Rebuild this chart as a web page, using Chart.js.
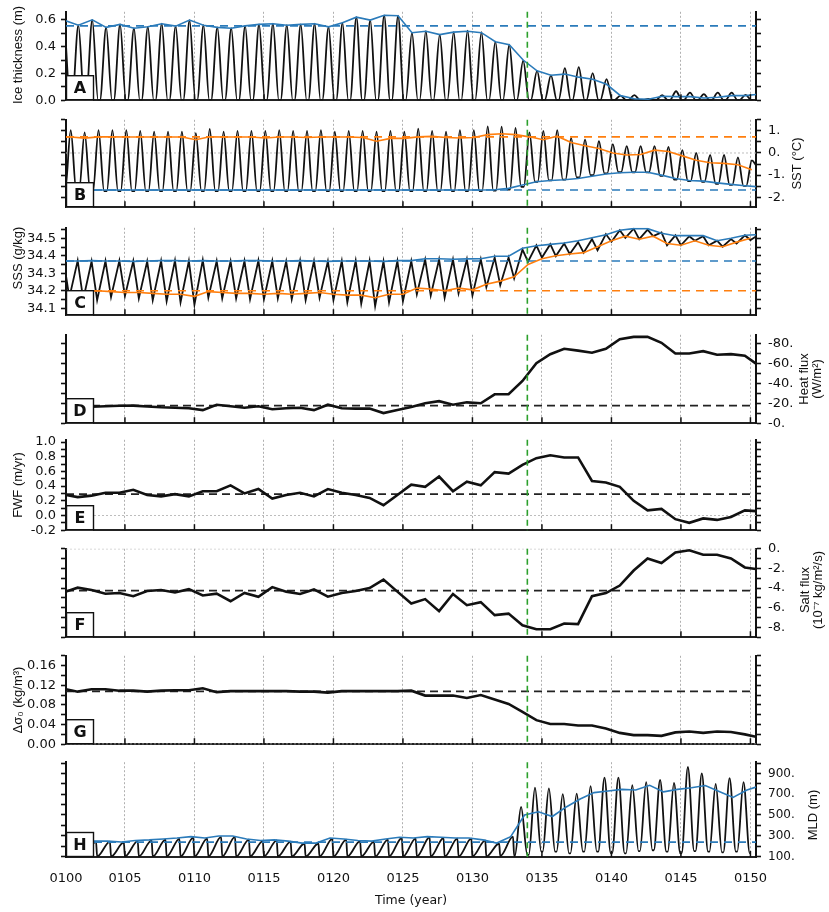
<!DOCTYPE html>
<html>
<head>
<meta charset="utf-8">
<title>Ice thickness, SST, SSS, surface fluxes, stratification and MLD, years 0100–0150</title>
<script src="https://cdn.jsdelivr.net/npm/chart.js"></script>
<style>
  html, body { margin: 0; padding: 0; background: #ffffff; }
  #figure { position: relative; width: 829px; height: 912px; overflow: hidden; background: #ffffff; }
  #figure canvas { position: absolute; left: 0; }
</style>
</head>
<body>
<div id="figure"></div>
<script>
// ================= x axis (model years) =================
const X_MIN = 100.76;
const X_MAX = 150.4;
const X_TICKS = [105, 110, 115, 120, 125, 130, 135, 140, 145, 150];
const X_START_LABEL = '0100';
const EVENT_YEAR = 133.95;

const YEARS = [100,101,102,103,104,105,106,107,108,109,
               110,111,112,113,114,115,116,117,118,119,
               120,121,122,123,124,125,126,127,128,129,
               130,131,132,133,134,135,136,137,138,139,
               140,141,142,143,144,145,146,147,148,149,150];

// ================= A: ice thickness (m) =================
// yearly maximum of the monthly curve, years 0100..0149
const A_PEAK = [0.597,0.560,0.600,0.544,0.566,0.537,0.548,0.571,0.553,0.598,
                0.560,0.544,0.537,0.555,0.566,0.571,0.560,0.566,0.571,0.548,
                0.578,0.620,0.598,0.634,0.631,0.504,0.515,0.490,0.508,0.520,
                0.508,0.437,0.414,0.295,0.219,0.186,0.240,0.247,0.202,0.157,
                0.034,0.038,0.010,0.038,0.067,0.056,0.045,0.056,0.056,0.040];
const A_ICE_FREE = 0.0;
// blue annual-maximum line, years 0100..0149
const A_MAX = [0.597,0.560,0.600,0.544,0.566,0.537,0.548,0.571,0.553,0.598,
               0.560,0.544,0.537,0.555,0.566,0.571,0.560,0.566,0.571,0.548,
               0.578,0.620,0.598,0.634,0.631,0.504,0.515,0.490,0.508,0.515,
               0.504,0.437,0.414,0.300,0.219,0.186,0.195,0.172,0.157,0.119,
               0.034,0.011,0.007,0.029,0.027,0.027,0.016,0.022,0.034,0.034];
const A_MAX_END = 0.043;
const A_MAX_MEAN = 0.555;

// ================= B: SST (°C) =================
// summer peaks, years 0101..0150
const B_PEAK = [1.03,0.93,1.03,1.03,1.03,1.00,0.97,0.97,0.97,0.90,
                1.09,0.97,1.00,1.00,1.00,1.03,1.00,1.00,1.03,0.96,
                1.00,1.00,0.96,1.00,0.96,1.10,1.00,0.97,1.03,1.03,
                1.20,1.19,1.13,0.93,1.00,1.03,0.67,0.60,0.53,0.40,
                0.31,0.31,0.31,0.27,0.13,0.00,-0.09,-0.09,-0.20,-0.33];
// winter troughs, years 0100..0149
const B_TROUGH = [-1.72,-1.72,-1.72,-1.72,-1.72,-1.72,-1.72,-1.72,-1.72,-1.72,
                  -1.72,-1.72,-1.72,-1.72,-1.72,-1.72,-1.72,-1.72,-1.72,-1.72,
                  -1.72,-1.72,-1.72,-1.72,-1.72,-1.72,-1.72,-1.72,-1.72,-1.72,
                  -1.72,-1.70,-1.66,-1.53,-1.30,-1.24,-1.20,-1.10,-1.00,-0.92,
                  -0.87,-0.87,-0.88,-1.03,-1.20,-1.27,-1.30,-1.40,-1.44,-1.49];
const B_END = -0.55;
// orange line, years 0101..0150
const B_MAX = [0.72,0.67,0.73,0.73,0.72,0.72,0.72,0.72,0.72,0.60,
               0.73,0.72,0.72,0.72,0.68,0.72,0.72,0.70,0.72,0.72,
               0.72,0.70,0.53,0.66,0.66,0.73,0.75,0.70,0.68,0.70,
               0.83,0.87,0.83,0.73,0.60,0.76,0.47,0.33,0.20,0.00,
               -0.09,-0.07,0.13,0.07,-0.13,-0.33,-0.44,-0.47,-0.53,-0.76];
const B_MAX_START = 0.73;
const B_MAX_MEAN = 0.73;
// blue line, years 0100..0149
const B_MIN = [-1.67,-1.67,-1.67,-1.67,-1.67,-1.67,-1.67,-1.67,-1.67,-1.67,
               -1.67,-1.67,-1.67,-1.67,-1.67,-1.67,-1.67,-1.67,-1.67,-1.67,
               -1.67,-1.67,-1.67,-1.67,-1.67,-1.67,-1.67,-1.67,-1.67,-1.67,
               -1.67,-1.66,-1.60,-1.45,-1.30,-1.24,-1.21,-1.15,-1.05,-0.95,
               -0.89,-0.87,-0.87,-1.00,-1.15,-1.24,-1.27,-1.35,-1.42,-1.48];
const B_MIN_END = -1.52;
const B_MIN_MEAN = -1.67;
const B_ZERO = 0;

// ================= C: SSS (g/kg) =================
// winter peaks, years 0100..0149
const C_PEAK = [34.370,34.372,34.368,34.370,34.372,34.370,34.368,34.370,34.372,34.370,
                34.375,34.370,34.368,34.370,34.372,34.370,34.368,34.372,34.370,34.368,
                34.370,34.372,34.370,34.368,34.370,34.370,34.378,34.378,34.378,34.380,
                34.380,34.390,34.390,34.435,34.460,34.466,34.470,34.478,34.495,34.524,
                34.546,34.555,34.550,34.534,34.517,34.512,34.512,34.486,34.495,34.517];
// summer troughs, years 0101..0150
const C_TROUGH = [34.160,34.150,34.146,34.164,34.169,34.157,34.146,34.140,34.134,34.120,
                  34.160,34.157,34.157,34.152,34.152,34.157,34.152,34.146,34.160,34.146,
                  34.134,34.126,34.112,34.134,34.140,34.180,34.173,34.160,34.186,34.173,
                  34.220,34.232,34.270,34.366,34.390,34.398,34.410,34.418,34.432,34.480,
                  34.503,34.495,34.512,34.460,34.460,34.486,34.460,34.452,34.470,34.490];
const C_END = 34.51;
// blue line, years 0100..0149
const C_MAX = [34.370,34.370,34.372,34.370,34.370,34.368,34.370,34.372,34.372,34.370,
               34.372,34.370,34.370,34.372,34.372,34.370,34.370,34.372,34.370,34.368,
               34.370,34.370,34.370,34.368,34.372,34.372,34.383,34.383,34.380,34.382,
               34.383,34.397,34.397,34.443,34.457,34.465,34.473,34.486,34.503,34.520,
               34.546,34.555,34.555,34.529,34.515,34.515,34.515,34.486,34.500,34.517];
const C_MAX_END = 34.52;
const C_MAX_MEAN = 34.37;
// orange line, years 0101..0150
const C_MIN = [34.190,34.195,34.200,34.195,34.190,34.190,34.185,34.180,34.180,34.168,
               34.195,34.190,34.185,34.185,34.180,34.185,34.180,34.185,34.190,34.180,
               34.175,34.175,34.160,34.180,34.180,34.215,34.210,34.200,34.215,34.205,
               34.237,34.255,34.280,34.350,34.383,34.400,34.410,34.418,34.452,34.486,
               34.512,34.495,34.512,34.470,34.460,34.486,34.460,34.452,34.478,34.500];
const C_MIN_START = 34.19;
const C_MIN_MEAN = 34.20;

// ================= D: heat flux (W/m²), annual, years 0101..0149 =================
const D_FLUX = [-15.0,-16.5,-17.1,-17.5,-17.7,-16.8,-16.0,-15.6,-15.0,-13.2,
                -18.6,-17.1,-15.6,-17.1,-14.1,-15.0,-15.6,-13.2,-18.6,-15.0,
                -14.7,-14.7,-10.2,-13.2,-16.2,-20.1,-22.2,-18.6,-21.0,-20.1,
                -29.1,-29.1,-42.5,-60.5,-69.5,-74.9,-73.1,-71.0,-74.9,-84.5,
                -86.9,-86.9,-80.9,-70.1,-70.1,-72.5,-68.9,-69.5,-68.0];
const D_START = -14.0, D_END = -59.9, D_MEAN = -17.7;

// ================= E: FWF (m/yr), annual, years 0101..0149 =================
const E_FWF = [0.25,0.27,0.31,0.31,0.35,0.28,0.26,0.29,0.26,0.33,
               0.33,0.41,0.30,0.36,0.23,0.28,0.31,0.26,0.36,0.31,
               0.28,0.24,0.14,0.28,0.42,0.39,0.53,0.33,0.46,0.41,
               0.59,0.57,0.69,0.78,0.82,0.79,0.79,0.47,0.45,0.39,
               0.20,0.07,0.09,-0.05,-0.10,-0.04,-0.06,-0.02,0.07];
const E_START = 0.28, E_END = 0.06, E_MEAN = 0.29, E_ZERO = 0;

// ================= F: salt flux (1e-7 kg/m²/s), annual, years 0101..0149 =================
const F_SALT = [-3.96,-4.20,-4.57,-4.50,-4.82,-4.30,-4.20,-4.45,-4.11,-4.75,
                -4.57,-5.34,-4.50,-4.88,-3.90,-4.36,-4.60,-4.14,-4.88,-4.50,
                -4.30,-3.99,-3.13,-4.36,-5.58,-5.12,-6.35,-4.60,-5.74,-5.43,
                -6.75,-6.60,-7.79,-8.19,-8.19,-7.60,-7.67,-4.82,-4.51,-3.74,
                -2.21,-0.98,-1.44,-0.37,-0.15,-0.61,-0.61,-0.98,-1.90];
const F_START = -4.36, F_END = -2.06, F_MEAN = -4.26, F_ZERO = 0;

// ================= G: Δσ0 (kg/m³), annual, years 0101..0149 =================
const G_DSIGMA = [0.107,0.112,0.112,0.109,0.109,0.107,0.109,0.110,0.110,0.114,
                  0.106,0.108,0.108,0.108,0.108,0.108,0.107,0.107,0.105,0.108,
                  0.108,0.108,0.108,0.108,0.109,0.099,0.099,0.099,0.094,0.100,
                  0.091,0.082,0.066,0.049,0.041,0.041,0.038,0.038,0.032,0.023,
                  0.0185,0.0185,0.017,0.024,0.026,0.023,0.026,0.025,0.020];
const G_START = 0.112, G_END = 0.015, G_MEAN = 0.1075, G_ZERO = 0;

// ================= H: MLD (m) =================
// yearly maxima, years 0100..0149
const H_PEAK = [240,240,243,243,235,248,255,262,270,282,
                272,288,288,262,248,255,243,225,225,270,
                262,248,243,262,278,272,285,278,272,272,
                255,225,291,577,762,755,700,706,777,860,
                860,786,817,838,808,962,900,798,854,817];
// yearly minima, years 0101..0150
const H_TROUGH = [100,100,100,100,100,100,100,100,100,100,
                  100,100,100,100,100,100,100,100,100,100,
                  100,100,100,100,100,100,100,100,100,100,
                  100,104,106,115,146,146,130,146,146,130,
                  130,152,160,146,130,152,146,140,146,130];
const H_LATE_FROM = 133;
// blue line, years 0100..0149
const H_MAX = [245,245,248,248,240,254,260,269,278,291,
               278,297,297,269,254,260,248,229,229,278,
               269,254,248,269,285,278,291,285,278,278,
               260,229,291,500,531,485,577,654,715,731,
               746,740,786,722,746,762,783,725,669,740];
const H_MAX_END = 768;
const H_MAX_MEAN = 238;

// ================= phases within a year (fraction of a year) =================
const PH = {
  A_PEAK: 0.65, A_FREE_START: 1.07, A_FREE_END: 1.2,
  B_PEAK: 0.1, B_LOW_START: 0.5, B_LOW_END: 0.7,
  C_PEAK: 0.6, C_TROUGH: 1.0,
  H_EARLY_PEAK: 0.92, H_LATE_RISE: 0.05, H_LATE_PEAK: 0.5, H_LATE_FALL: 0.95,
  ANNUAL: 0.6, BLUE_A: 0.65, BLUE_B: 0.6, ORANGE_B: 0.1, BLUE_C: 0.6, ORANGE_C: 0.0, BLUE_H: 0.75
};

// ================= styles =================
const BLACK = '#111111', BLUE = '#2b7bba', ORANGE = '#ff7f0e', GREEN = '#2ca02c', GRIDC = '#b0b0b0', ZEROC = '#bdbdbd';
const TICK_FONT = { family: "'DejaVu Sans', 'Liberation Sans', sans-serif", size: 13 };
const TICK_FONT_H = { family: "'DejaVu Sans', 'Liberation Sans', sans-serif", size: 12 };
const TITLE_FONT = "13px 'Liberation Sans', Arial, sans-serif";
const SEASONAL_W = 1.8;

// ================= builders =================
function annual(values, yearOffset, phase, startValue, endValue) {
  const pts = [];
  if (startValue != null) pts.push({ x: X_MIN, y: startValue });
  values.forEach((v, i) => pts.push({ x: YEARS[i + yearOffset] + phase, y: v }));
  if (endValue != null) pts.push({ x: X_MAX, y: endValue });
  return pts;
}
function buildA() {
  const pts = [];
  A_PEAK.forEach((v, i) => {
    const y = YEARS[i];
    pts.push({ x: y + PH.A_PEAK, y: v });
    pts.push({ x: y + PH.A_FREE_START, y: A_ICE_FREE });
    pts.push({ x: y + PH.A_FREE_END, y: A_ICE_FREE });
  });
  return pts;
}
function buildB() {
  const pts = [];
  B_TROUGH.forEach((v, i) => {
    const y = YEARS[i];
    pts.push({ x: y + PH.B_LOW_START, y: v });
    pts.push({ x: y + PH.B_LOW_END, y: v });
    pts.push({ x: YEARS[i + 1] + PH.B_PEAK, y: B_PEAK[i] });
  });
  pts.push({ x: X_MAX, y: B_END });
  return pts;
}
function buildC() {
  const pts = [];
  C_PEAK.forEach((v, i) => {
    const y = YEARS[i];
    pts.push({ x: y + PH.C_PEAK, y: v });
    pts.push({ x: y + PH.C_TROUGH, y: C_TROUGH[i] });
  });
  pts.push({ x: X_MAX, y: C_END });
  return pts;
}
function buildH() {
  const pts = [];
  H_PEAK.forEach((v, i) => {
    const y = YEARS[i];
    if (y < H_LATE_FROM) {
      pts.push({ x: y + PH.H_EARLY_PEAK, y: v });
      pts.push({ x: y + 1, y: H_TROUGH[i] });
    } else {
      pts.push({ x: y + PH.H_LATE_RISE, y: H_TROUGH[i - 1] });
      pts.push({ x: y + PH.H_LATE_PEAK, y: v });
      pts.push({ x: y + PH.H_LATE_FALL, y: H_TROUGH[i] });
      pts.push({ x: y + 1, y: H_TROUGH[i] });
    }
  });
  return pts;
}
function line(data, color, width, extra) {
  return Object.assign({ data, borderColor: color, backgroundColor: color, borderWidth: width,
    pointRadius: 0, fill: false, tension: 0, xAxisID: 'x', yAxisID: 'yL' }, extra || {});
}
function flat(value, color, dash, width, order) {
  return line([{ x: X_MIN, y: value }, { x: X_MAX, y: value }], color, width, { borderDash: dash, order });
}
const SMOOTH = { cubicInterpolationMode: 'monotone' };

// ================= tick label formats =================
const near = (a, b) => Math.abs(a - b) < 1e-6;
const fmtA = v => (Math.round(v * 10) % 2 === 0 ? v.toFixed(1) : '');
const fmtB = v => (near(v, Math.round(v)) ? Math.round(v) + '.' : '');
const fmtC = v => (near(v * 10, Math.round(v * 10)) ? v.toFixed(1) : '');
const fmtD = v => (Math.round(v) % 20 === 0 ? (Math.round(v) === 0 ? '-0.' : Math.round(v) + '.') : '');
const fmtE = v => (Math.round(v * 10) % 2 === 0 ? v.toFixed(1) : '');
const fmtF = v => (Math.round(v) % 2 === 0 ? (Math.round(v) === 0 ? '0.' : Math.round(v) + '.') : '');
const fmtG = v => (Math.round(v * 100) % 4 === 0 ? v.toFixed(2) : '');
const fmtH = v => (Math.round((v - 100) / 100) % 2 === 0 ? Math.round(v) + '.' : '');

// ================= panels =================
const PANELS = [
  { letter: 'A', top: 7, bottom: 105, min: 0, max: 0.66, step: 0.1, left: fmtA,
    leftTitle: ['Ice thickness (m)'], titleY: 55,
    datasets: () => [
      line(buildA(), BLACK, SEASONAL_W, Object.assign({ order: 3 }, SMOOTH)),
      flat(A_MAX_MEAN, BLUE, [8, 6], 1.6, 2),
      line(annual(A_MAX, 0, PH.BLUE_A, null, A_MAX_END), BLUE, 1.6, { order: 1 })
    ] },
  { letter: 'B', top: 115, bottom: 212, min: -2.45, max: 1.5, step: 0.5, right: fmtB,
    rightTitle: ['SST (°C)'], titleX: 797,
    datasets: () => [
      flat(B_ZERO, ZEROC, [2, 2], 1, 5),
      line(buildB(), BLACK, SEASONAL_W, Object.assign({ order: 3 }, SMOOTH)),
      flat(B_MAX_MEAN, ORANGE, [8, 6], 1.6, 2),
      flat(B_MIN_MEAN, BLUE, [8, 6], 1.6, 2),
      line(annual(B_MAX, 1, PH.ORANGE_B, B_MAX_START, null), ORANGE, 1.6, { order: 1 }),
      line(annual(B_MIN, 0, PH.BLUE_B, null, B_MIN_END), BLUE, 1.6, { order: 1 })
    ] },
  { letter: 'C', top: 223, bottom: 320, min: 34.06, max: 34.56, step: 0.05, left: fmtC,
    leftTitle: ['SSS (g/kg)'], titleY: 258,
    datasets: () => [
      line(buildC(), BLACK, SEASONAL_W, { order: 3 }),
      flat(C_MAX_MEAN, BLUE, [8, 6], 1.6, 2),
      flat(C_MIN_MEAN, ORANGE, [8, 6], 1.6, 2),
      line(annual(C_MAX, 0, PH.BLUE_C, null, C_MAX_END), BLUE, 1.6, { order: 1 }),
      line(annual(C_MIN, 1, PH.ORANGE_C, C_MIN_START, null), ORANGE, 1.6, { order: 1 })
    ] },
  { letter: 'D', top: 330, bottom: 428, min: -89, max: 0, reverse: true, step: 10, right: fmtD,
    rightTitle: ['Heat flux', '(W/m²)'], titleX: 811,
    datasets: () => [
      flat(D_MEAN, '#222222', [8, 5], 1.8, 2),
      line(annual(D_FLUX, 1, PH.ANNUAL, D_START, D_END), BLACK, 2.6, { order: 1 })
    ] },
  { letter: 'E', top: 435, bottom: 535, min: -0.2, max: 1.03, step: 0.1, left: fmtE,
    leftTitle: ['FWF (m/yr)'],
    datasets: () => [
      flat(E_ZERO, ZEROC, [2, 2], 1, 5),
      flat(E_MEAN, '#222222', [8, 5], 1.8, 2),
      line(annual(E_FWF, 1, PH.ANNUAL, E_START, E_END), BLACK, 2.6, { order: 1 })
    ] },
  { letter: 'F', top: 544, bottom: 642, min: -9, max: 0, step: 1, right: fmtF,
    rightTitle: ['Salt flux', '(10⁻⁷ kg/m²/s)'], titleY: 590, titleX: 812,
    datasets: () => [
      flat(F_ZERO, ZEROC, [2, 2], 1.2, 5),
      flat(F_MEAN, '#222222', [8, 5], 1.8, 2),
      line(annual(F_SALT, 1, PH.ANNUAL, F_START, F_END), BLACK, 2.6, { order: 1 })
    ] },
  { letter: 'G', top: 651, bottom: 749, min: 0, max: 0.18, step: 0.02, left: fmtG,
    leftTitle: ['Δσ₀ (kg/m³)'],
    datasets: () => [
      flat(G_ZERO, ZEROC, [2, 2], 1.2, 5),
      flat(G_MEAN, '#222222', [8, 5], 1.8, 2),
      line(annual(G_DSIGMA, 1, PH.ANNUAL, G_START, G_END), BLACK, 2.6, { order: 1 })
    ] },
  { letter: 'H', top: 758, bottom: 857, min: 95, max: 1008, step: 100, right: fmtH, rightFont: TICK_FONT_H,
    rightTitle: ['MLD (m)'], titleY: 815, titleX: 813, xLabels: true,
    datasets: () => [
      line(buildH(), BLACK, SEASONAL_W, Object.assign({ order: 3 }, SMOOTH)),
      flat(H_MAX_MEAN, BLUE, [8, 6], 1.6, 2),
      line(annual(H_MAX, 0, PH.BLUE_H, null, H_MAX_END), BLUE, 1.6, { order: 1 })
    ] }
];

// ================= frame / annotation plugin =================
function drawRotated(ctx, lines, cx, cy, gap) {
  ctx.save();
  ctx.translate(cx, cy);
  ctx.rotate(-Math.PI / 2);
  ctx.font = TITLE_FONT;
  ctx.fillStyle = BLACK;
  ctx.textAlign = 'center';
  ctx.textBaseline = 'middle';
  const n = lines.length;
  lines.forEach((t, k) => ctx.fillText(t, 0, (k - (n - 1) / 2) * gap));
  ctx.restore();
}
const framePlugin = {
  id: 'frame',
  afterDatasetsDraw(chart) {
    const { ctx, chartArea: a, scales } = chart;
    const gx = scales.x.getPixelForValue(EVENT_YEAR);
    ctx.save();
    ctx.strokeStyle = GREEN;
    ctx.lineWidth = 1.6;
    ctx.setLineDash([6, 4]);
    ctx.beginPath();
    ctx.moveTo(gx, a.top);
    ctx.lineTo(gx, a.bottom);
    ctx.stroke();
    ctx.restore();
  },
  afterDraw(chart, args, o) {
    const { ctx, chartArea: a, scales } = chart;
    ctx.save();
    ctx.setLineDash([]);
    ctx.strokeStyle = BLACK;
    ctx.lineWidth = 1.5;
    X_TICKS.forEach(v => {
      const px = scales.x.getPixelForValue(v);
      ctx.beginPath();
      ctx.moveTo(px, a.bottom);
      ctx.lineTo(px, a.bottom - 6);
      ctx.stroke();
    });
    const bw = 27, bh = 25;
    ctx.fillStyle = '#ffffff';
    ctx.fillRect(a.left, a.bottom - bh, bw, bh);
    ctx.lineWidth = 1.4;
    ctx.strokeStyle = BLACK;
    ctx.strokeRect(a.left + 0.5, a.bottom - bh + 0.5, bw, bh - 1);
    ctx.fillStyle = BLACK;
    ctx.font = "bold 16px 'DejaVu Sans', sans-serif";
    ctx.textAlign = 'center';
    ctx.textBaseline = 'middle';
    ctx.fillText(o.letter, a.left + bw / 2 + 0.5, a.bottom - bh / 2 + 1);
    // o.titleY is given in page pixels; convert to this canvas
    const cy = o.titleY != null ? o.titleY - o.canvasTop : (a.top + a.bottom) / 2;
    if (o.leftTitle) drawRotated(ctx, o.leftTitle, 18, cy, 12.5);
    if (o.rightTitle) drawRotated(ctx, o.rightTitle, o.titleX, cy, 12.5);
    ctx.restore();
  }
};

// ================= build the charts =================
const fig = document.getElementById('figure');
const W = 829, LEFT_W = 66, RIGHT_W = 73, PAD = 10, XH = 55;

function stepTicks(min, max, step) {
  const out = [];
  const k0 = Math.ceil(min / step - 1e-9), k1 = Math.floor(max / step + 1e-9);
  for (let k = k0; k <= k1; k++) out.push({ value: Math.round(k * step * 1e6) / 1e6 });
  return out;
}
function yScale(pos, p, fmt, font) {
  return {
    type: 'linear', position: pos, min: p.min, max: p.max, reverse: !!p.reverse,
    afterBuildTicks: s => { s.ticks = stepTicks(p.min, p.max, p.step); },
    afterFit: s => { s.width = pos === 'left' ? LEFT_W : RIGHT_W; },
    grid: { display: true, drawOnChartArea: false, drawTicks: true, tickLength: 5, tickColor: BLACK, tickWidth: 1.6 },
    border: { display: true, color: BLACK, width: 2 },
    ticks: { autoSkip: false, padding: pos === 'left' ? 5 : 7,
             color: BLACK, font: font || TICK_FONT, callback: fmt || (() => '') }
  };
}

PANELS.forEach(p => {
  const xh = p.xLabels ? XH : 0;
  const pb = p.xLabels ? 0 : PAD;
  const h = PAD + (p.bottom - p.top) + xh + pb;
  const canvasTop = p.top - PAD;
  const c = document.createElement('canvas');
  c.width = W; c.height = h;
  c.style.top = canvasTop + 'px';
  c.style.width = W + 'px'; c.style.height = h + 'px';
  fig.appendChild(c);
  new Chart(c, {
    type: 'line',
    data: { datasets: p.datasets() },
    plugins: [framePlugin],
    options: {
      responsive: false, animation: false, normalized: true,
      layout: { padding: { top: PAD, bottom: pb, left: 0, right: 0 } },
      plugins: {
        legend: { display: false }, tooltip: { enabled: false },
        frame: { letter: p.letter, leftTitle: p.leftTitle, rightTitle: p.rightTitle,
                 titleY: p.titleY, titleX: p.titleX, canvasTop }
      },
      scales: {
        x: {
          type: 'linear', min: X_MIN, max: X_MAX,
          afterBuildTicks: s => { s.ticks = [X_MIN].concat(X_TICKS).map(v => ({ value: v })); },
          afterFit: s => { s.height = xh; },
          grid: { display: true, drawOnChartArea: true, drawTicks: false, lineWidth: 1,
                  color: ctx => (ctx.tick && ctx.tick.value === X_MIN ? 'rgba(0,0,0,0)' : GRIDC) },
          border: { display: true, color: '#222222', width: 2, dash: [2, 2] },
          ticks: { display: !!p.xLabels, autoSkip: false, maxRotation: 0, padding: 14, color: BLACK,
                   font: TICK_FONT,
                   callback: v => (v === X_MIN ? X_START_LABEL : String(v).padStart(4, '0')) },
          title: { display: !!p.xLabels, text: 'Time (year)', color: BLACK,
                   font: { family: "'DejaVu Sans', sans-serif", size: 12.5 }, padding: { top: 0, bottom: 4 } }
        },
        yL: yScale('left', p, p.left),
        yR: yScale('right', p, p.right, p.rightFont)
      }
    }
  });
});
</script>
</body>
</html>
